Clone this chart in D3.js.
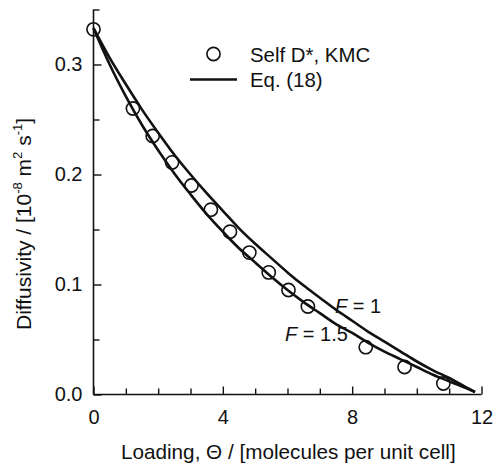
<!DOCTYPE html>
<html>
<head>
<meta charset="utf-8">
<script src="https://cdn.jsdelivr.net/npm/d3@7/dist/d3.min.js"></script>
<style>
  html, body { margin: 0; padding: 0; background: #fff; }
  svg { display: block; }
  text { font-family: "Liberation Sans", Arial, Helvetica, sans-serif; fill: #111; }
</style>
</head>
<body>
<svg id="chart" width="494" height="468"></svg>
<script>
// ---- data ----
const kmcLoading = [0, 1.22, 1.83, 2.43, 3.03, 3.63, 4.22, 4.82, 5.42, 6.03, 6.63, 8.42, 9.62, 10.82];
const kmcSelfD   = [0.332, 0.260, 0.235, 0.211, 0.190, 0.168, 0.148, 0.129, 0.111, 0.095, 0.080, 0.043, 0.025, 0.010];

const curveLoading = [0, 0.5, 1, 1.5, 2, 2.5, 3, 3.5, 4, 4.5, 5, 5.5, 6, 6.5, 7, 7.5, 8, 8.5, 9, 9.5, 10, 10.5, 11, 11.5, 11.8];
const eqF1   = [0.333, 0.306, 0.282, 0.259, 0.238, 0.218, 0.200, 0.183, 0.167, 0.151, 0.137, 0.124, 0.111, 0.099, 0.088, 0.077, 0.067, 0.057, 0.048, 0.039, 0.030, 0.022, 0.015, 0.007, 0.0025];
const eqF15  = [0.333, 0.300, 0.271, 0.245, 0.222, 0.201, 0.182, 0.164, 0.148, 0.133, 0.120, 0.107, 0.095, 0.084, 0.074, 0.064, 0.056, 0.047, 0.039, 0.032, 0.025, 0.018, 0.012, 0.006, 0.0022];

const xMajorTicks = [0, 4, 8, 12];
const xMinorTicks = [1, 2, 3, 5, 6, 7, 9, 10, 11];
const yMajorTicks = [0.0, 0.1, 0.2, 0.3];
const yMinorTicks = [0.05, 0.15, 0.25, 0.35];

const legendLabels = ["Self D*, KMC", "Eq. (18)"];
const curveLabels = [{F: "F", rest: " = 1"}, {F: "F", rest: " = 1.5"}];

// ---- drawing ----
const svg = d3.select("#chart");
const x = d3.scaleLinear().domain([0, 12]).range([93.5, 481.5]);
const y = d3.scaleLinear().domain([0, 0.35]).range([394.5, 9.5]);

const FONT = 20;

// axes
const gx = svg.append("g").attr("transform", `translate(0,${y(0)})`);
gx.call(d3.axisBottom(x).tickValues(xMajorTicks).tickSize(-8).tickPadding(15).tickFormat(d3.format("d")));
const gxm = svg.append("g").attr("transform", `translate(0,${y(0)})`);
gxm.call(d3.axisBottom(x).tickValues(xMinorTicks).tickSize(-6).tickFormat(""));

const gy = svg.append("g").attr("transform", `translate(${x(0)},0)`);
gy.call(d3.axisLeft(y).tickValues(yMajorTicks).tickSize(-8).tickPadding(11).tickFormat(d3.format(".1f")));
const gym = svg.append("g").attr("transform", `translate(${x(0)},0)`);
gym.call(d3.axisLeft(y).tickValues(yMinorTicks).tickSize(-6).tickFormat(""));

[gx, gxm, gy, gym].forEach(g => {
  g.selectAll("path.domain").attr("stroke", "#111").attr("stroke-width", 1.6);
  g.selectAll(".tick line").attr("stroke", "#111").attr("stroke-width", 1.4);
  g.selectAll(".tick text").attr("font-size", FONT).attr("font-family", "Liberation Sans, Arial, sans-serif").attr("fill", "#111");
});
gxm.select("path.domain").remove();
gym.select("path.domain").remove();
gx.select("path.domain").attr("d", `M${x(0)},0H${x(12)}`);
gy.select("path.domain").attr("d", `M0,${y(0.35)}V${y(0)}`);

// curves
const line = d3.line().x(d => x(d[0])).y(d => y(d[1])).curve(d3.curveMonotoneX);
[eqF1, eqF15].forEach(vals => {
  svg.append("path")
    .datum(curveLoading.map((t, i) => [t, vals[i]]))
    .attr("d", line)
    .attr("fill", "none")
    .attr("stroke", "#111")
    .attr("stroke-width", 2.6);
});

// KMC circles
svg.append("g").selectAll("circle")
  .data(kmcLoading.map((t, i) => [t, kmcSelfD[i]]))
  .join("circle")
  .attr("cx", d => x(d[0]))
  .attr("cy", d => y(d[1]))
  .attr("r", 6.6)
  .attr("fill", "none")
  .attr("stroke", "#111")
  .attr("stroke-width", 1.6);

// legend
svg.append("circle").attr("cx", 213.5).attr("cy", 54).attr("r", 6.6)
  .attr("fill", "none").attr("stroke", "#111").attr("stroke-width", 1.6);
svg.append("line").attr("x1", 190).attr("x2", 237).attr("y1", 79.5).attr("y2", 79.5)
  .attr("stroke", "#111").attr("stroke-width", 2.6);
svg.append("text").attr("x", 250).attr("y", 62).attr("font-size", 20.4).text(legendLabels[0]);
svg.append("text").attr("x", 250).attr("y", 87).attr("font-size", 20.4).text(legendLabels[1]);

// curve annotations
const annPos = [[335, 313], [285, 341]];
curveLabels.forEach((c, i) => {
  const t = svg.append("text").attr("x", annPos[i][0]).attr("y", annPos[i][1]).attr("font-size", FONT);
  t.append("tspan").attr("font-style", "italic").text(c.F);
  t.append("tspan").text(c.rest);
});

// axis titles
svg.append("text")
  .attr("x", 121).attr("y", 459)
  .attr("font-size", 20.7)
  .text("Loading, \u0398 / [molecules per unit cell]");

const yt = svg.append("text")
  .attr("transform", "translate(31,330) rotate(-90)")
  .attr("x", 0).attr("y", 0)
  .attr("font-size", 21);
yt.append("tspan").text("Diffusivity / [10");
yt.append("tspan").attr("font-size", 13).attr("dy", -9).text("-8");
yt.append("tspan").attr("dy", 9).text(" m");
yt.append("tspan").attr("font-size", 13).attr("dy", -9).text("2");
yt.append("tspan").attr("dy", 9).text(" s");
yt.append("tspan").attr("font-size", 13).attr("dy", -9).text("-1");
yt.append("tspan").attr("dy", 9).text("]");
</script>
</body>
</html>
